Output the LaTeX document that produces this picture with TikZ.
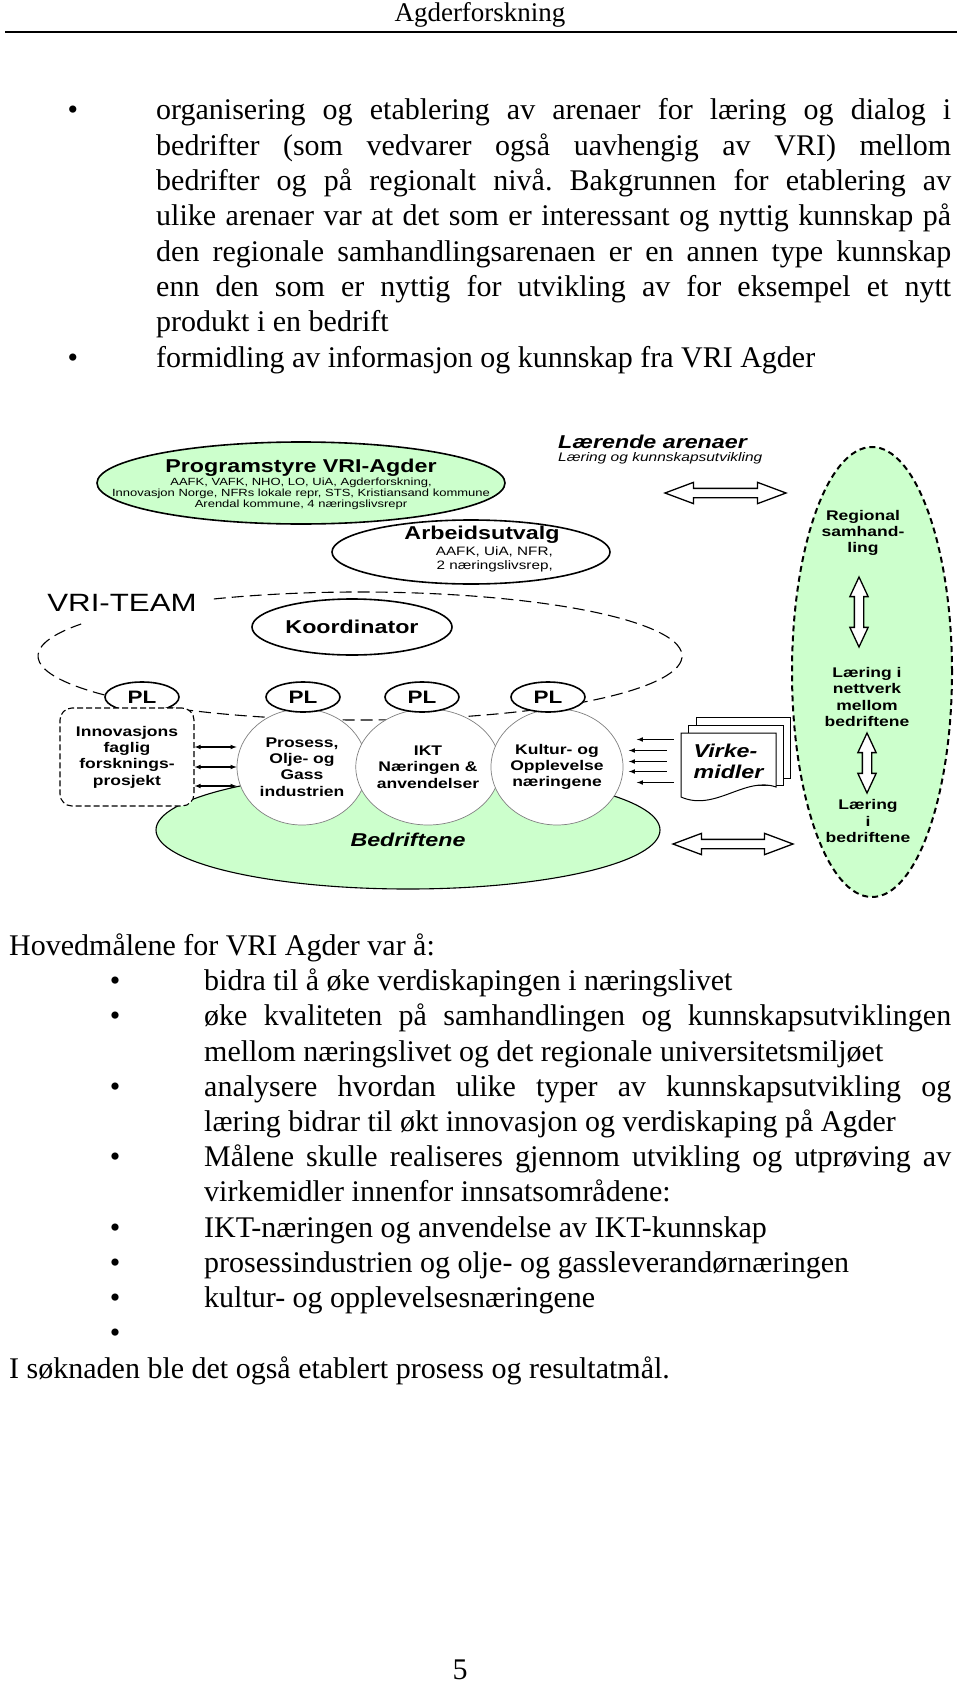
\documentclass[tikz,border=0pt]{standalone}
\usepackage{fontspec}
\setmainfont{Liberation Serif}
\newfontfamily\arialfam[FakeStretch=1.25]{Liberation Sans}
\usepackage{tikz}
\usetikzlibrary{arrows,shapes,positioning}
\definecolor{lgreen}{RGB}{204,255,204}
\frenchspacing

\begin{document}
\begin{tikzpicture}[x=1pt,y=-1pt,>=latex,
  body/.style={anchor=base west, inner sep=0pt, font=\fontsize{30}{35}\selectfont},
  bul/.style={anchor=base, inner sep=0pt, font=\fontsize{30}{35}\selectfont},
  titlesans/.style={inner sep=0pt, font=\arialfam\bfseries\fontsize{18.6}{21}\selectfont},
  titleital/.style={titlesans, font=\arialfam\bfseries\itshape\fontsize{18.6}{21}\selectfont},
  boxsans/.style={inner sep=0pt, align=center, font=\arialfam\bfseries\fontsize{14}{16.3}\selectfont},
  oval/.style={draw, ellipse, line width=1.6pt, inner sep=0pt},
  sector/.style={draw=gray, ellipse, fill=white, line width=0.7pt, minimum width=130pt, minimum height=116pt, boxsans},
  plnode/.style={oval, fill=white, minimum width=74pt, minimum height=30pt, font=\arialfam\bfseries\fontsize{18}{20}\selectfont},
  smallarr/.style={line width=1.1pt},
  hollow/.style={double arrow, draw, fill=white, line width=1.3pt, inner xsep=0pt, inner ysep=4pt, minimum width=0pt},
]
\path[use as bounding box, fill=white] (0,0) rectangle (960,1685);

% page head
\node[inner sep=0pt, anchor=base, font=\fontsize{27}{30}\selectfont] (hdr) at (480,22) {Agderforskning};
\draw[line width=1.5pt] (5,32) -- (957,32);

% first list
\node[bul] (bu1) at (73,120) {•};
\node[body] (ar1) at (156,120) {\makebox[795pt][s]{organisering og etablering av arenaer for læring og dialog i}};
\node[body] (ar2) at (156,155.3) {\makebox[795pt][s]{bedrifter (som vedvarer også uavhengig av VRI) mellom}};
\node[body] (ar3) at (156,190.6) {\makebox[795pt][s]{bedrifter og på regionalt nivå. Bakgrunnen for etablering av}};
\node[body] (ar4) at (156,225.9) {\makebox[795pt][s]{ulike arenaer var at det som er interessant og nyttig kunnskap på}};
\node[body] (ar5) at (156,261.2) {\makebox[795pt][s]{den regionale samhandlingsarenaen er en annen type kunnskap}};
\node[body] (ar6) at (156,296.5) {\makebox[795pt][s]{enn den som er nyttig for utvikling av for eksempel et nytt}};
\node[body] (ar7) at (156,331.8) {produkt i en bedrift};
\node[bul] (bu2) at (73,367.1) {•};
\node[body] (ar8) at (156,367.1) {formidling av informasjon og kunnskap fra VRI Agder};

% VRI-team
\coordinate (teamc) at (360,656);
\draw[line width=1.1pt, dash pattern=on 12pt off 6pt] (teamc) ++(243:322 and 64) arc[start angle=243, end angle=570, x radius=322, y radius=64];
\node[inner sep=0pt, font=\arialfam\fontsize{25}{28}\selectfont] (team) at (122,603) {VRI-TEAM};

% Bedriftene
\node[draw, ellipse, fill=lgreen, line width=1.1pt, minimum width=504pt, minimum height=118pt] (bedr) at (408,830) {};
\node[titleital] (bedrlbl) at (408,840) {Bedriftene};

% styre
\node[oval, fill=lgreen, minimum width=408pt, minimum height=82pt] (styre) at (301,483) {};
\node[titlesans] (styrettl) at (301,468) {Programstyre VRI-Agder};
\node[inner sep=0pt, align=center, font=\arialfam\fontsize{10.4}{11}\selectfont] (styremem) at (301,494) {AAFK, VAFK, NHO, LO, UiA, Agderforskning,\\Innovasjon Norge, NFRs lokale repr, STS, Kristiansand kommune\\Arendal kommune, 4 næringslivsrepr};

\node[oval, minimum width=278pt, minimum height=64pt] (au) at (471,552) {};
\node[titlesans] (autitle) at (482,535) {Arbeidsutvalg};
\node[inner sep=0pt, align=right, anchor=east, font=\arialfam\fontsize{12.2}{14}\selectfont] (aumem) at (553,559) {AAFK, UiA, NFR,\\2 næringslivsrep,};

\node[oval, titlesans, minimum width=200pt, minimum height=56pt] (koord) at (352,627) {Koordinator};

% regional arena
\node[draw, ellipse, fill=lgreen, line width=2pt, dash pattern=on 6pt off 4pt, minimum width=160pt, minimum height=450pt] (regio) at (872,672) {};
\node[boxsans] (regtxt) at (863,533) {Regional\\samhand-\\ling};
\node[boxsans] (netttxt) at (867,697) {Læring i\\nettverk\\mellom\\bedriftene};
\node[boxsans] (bedrtxt) at (868,821) {Læring\\i\\bedriftene};

\node[titleital, anchor=west] (laer) at (558,442) {Lærende arenaer};
\node[anchor=west, inner sep=0pt, font=\arialfam\itshape\fontsize{12.4}{14}\selectfont] (laersub) at (558,458) {Læring og kunnskapsutvikling};

% big arrows
\node[hollow, minimum height=121pt, double arrow head extend=6pt, double arrow tip angle=41] (arrtop) at (725.5,493) {};
\node[hollow, minimum height=120pt, double arrow head extend=6pt, double arrow tip angle=41] (arrbot) at (733,844) {};
\node[hollow, rotate=90, minimum height=70pt, double arrow head extend=4.5pt, double arrow tip angle=50] (arrreg) at (859,612) {};
\node[hollow, rotate=90, minimum height=60pt, double arrow head extend=4.5pt, double arrow tip angle=50] (arrnet) at (867,763) {};

% sectors
\node[sector] (prosess) at (302,767) {Prosess,\\Olje- og\\Gass\\industrien};
\node[sector] (ikt) at (428,767) {IKT\\Næringen \&\\anvendelser};
\node[sector] (kultur) at (557,767) {Kultur- og\\Opplevelse\\næringene};

\node[plnode] (pl1) at (142,697) {PL};
\node[plnode] (pl2) at (303,697) {PL};
\node[plnode] (pl3) at (422,697) {PL};
\node[plnode] (pl4) at (548,697) {PL};

\node[draw, rounded corners=12pt, fill=white, line width=1.1pt, dash pattern=on 6pt off 3pt, minimum width=134pt, minimum height=98pt, boxsans] (innov) at (127,757) {Innovasjons\\faglig\\forsknings-\\prosjekt};

\draw[<->, smallarr] ([yshift=10pt]innov.east) -- ([yshift=10pt]innov.east -| prosess.west);
\draw[<->, smallarr] ([yshift=-10pt]innov.east) -- ([yshift=-10pt]innov.east -| prosess.west);
\draw[<->, smallarr] ([yshift=-29pt]innov.east) -- ([yshift=-29pt]innov.east -| prosess.west);

% virkemidler
\draw[fill=white, line width=1pt] (696,717) rectangle (790,778);
\draw[fill=white, line width=1pt] (688,725) rectangle (783,785);
\draw[fill=white, line width=1pt] (681,733) -- (776,733) -- (776,787) .. controls (745,776) and (715,812) .. (681,797) -- cycle;
\node[titleital, align=left, minimum width=95pt, minimum height=57pt] (virk) at (728.5,761.5) {Virke-\\midler};

\draw[->, smallarr] ([xshift=-7pt,yshift=22pt]virk.west) -- ([xshift=-44pt,yshift=22pt]virk.west);
\draw[->, smallarr] ([xshift=-14pt,yshift=11pt]virk.west) -- ([xshift=-52pt,yshift=11pt]virk.west);
\draw[->, smallarr] ([xshift=-14pt]virk.west) -- ([xshift=-52pt]virk.west);
\draw[->, smallarr] ([xshift=-14pt,yshift=-10pt]virk.west) -- ([xshift=-52pt,yshift=-10pt]virk.west);
\draw[->, smallarr] ([xshift=-7pt,yshift=-21pt]virk.west) -- ([xshift=-44pt,yshift=-21pt]virk.west);

% goals
\node[body] (hm0) at (9,955.5) {Hovedmålene for VRI Agder var å:};
\node[bul] (gb1) at (115,990.7) {•};
\node[body] (hm1) at (204,990.7) {bidra til å øke verdiskapingen i næringslivet};
\node[bul] (gb2) at (115,1025.9) {•};
\node[body] (hm2) at (204,1025.9) {\makebox[747pt][s]{øke kvaliteten på samhandlingen og kunnskapsutviklingen}};
\node[body] (hm3) at (204,1061.1) {mellom næringslivet og det regionale universitetsmiljøet};
\node[bul] (gb4) at (115,1096.3) {•};
\node[body] (hm4) at (204,1096.3) {\makebox[747pt][s]{analysere hvordan ulike typer av kunnskapsutvikling og}};
\node[body] (hm5) at (204,1131.5) {læring bidrar til økt innovasjon og verdiskaping på Agder};
\node[bul] (gb6) at (115,1166.7) {•};
\node[body] (hm6) at (204,1166.7) {\makebox[747pt][s]{Målene skulle realiseres gjennom utvikling og utprøving av}};
\node[body] (hm7) at (204,1201.9) {virkemidler innenfor innsatsområdene:};
\node[bul] (gb8) at (115,1237.1) {•};
\node[body] (hm8) at (204,1237.1) {IKT-næringen og anvendelse av IKT-kunnskap};
\node[bul] (gb9) at (115,1272.3) {•};
\node[body] (hm9) at (204,1272.3) {prosessindustrien og olje- og gassleverandørnæringen};
\node[bul] (gb10) at (115,1307.5) {•};
\node[body] (hm10) at (204,1307.5) {kultur- og opplevelsesnæringene};
\node[bul] (gb11) at (115,1342.7) {•};
\node[body] (hm12) at (9,1378) {I søknaden ble det også etablert prosess og resultatmål.};

\node[bul] (pgno) at (460,1679) {5};
\end{tikzpicture}
\end{document}
